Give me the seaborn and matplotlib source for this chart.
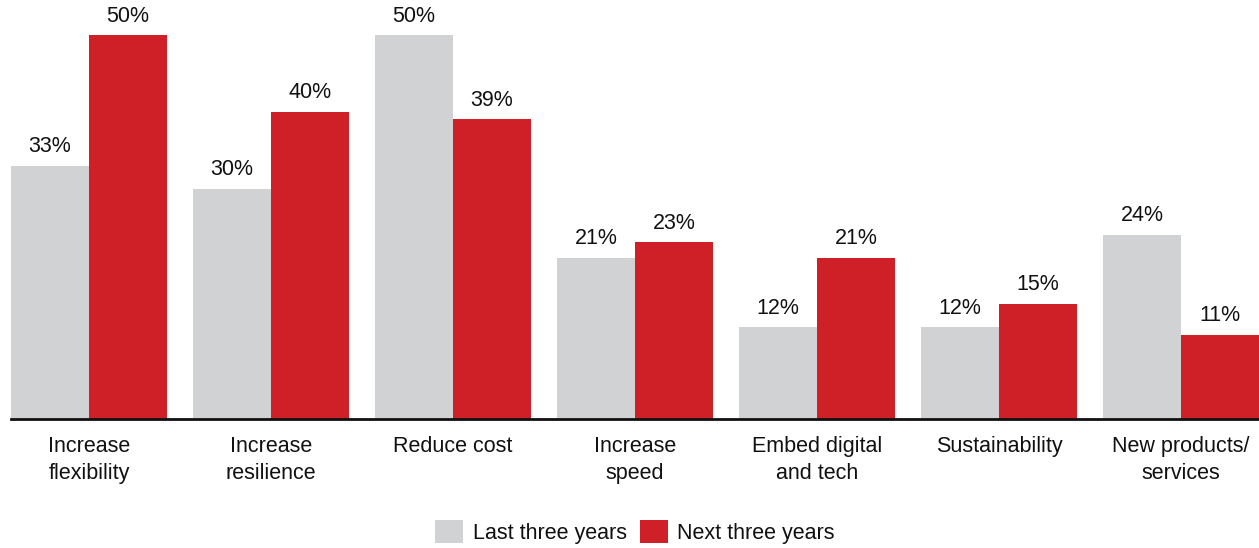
import matplotlib
matplotlib.use("Agg")
import matplotlib.pyplot as plt
import seaborn as sns
import pandas as pd
from matplotlib.patches import Patch

categories = ["Increase\nflexibility", "Increase\nresilience", "Reduce cost",
              "Increase\nspeed", "Embed digital\nand tech", "Sustainability",
              "New products/\nservices"]
last_three = [33, 30, 50, 21, 12, 12, 24]
next_three = [50, 40, 39, 23, 21, 15, 11]
series = ["Last three years", "Next three years"]
colors = ["#D1D2D4", "#CF2027"]

df = pd.DataFrame({
    "category": categories * 2,
    "value": last_three + next_three,
    "period": [series[0]] * len(categories) + [series[1]] * len(categories),
})

sns.set_theme(style="white")
plt.rcParams["font.family"] = ["Liberation Sans", "DejaVu Sans"]

FS = 15.5
fig = plt.figure(figsize=(12.59, 5.48), dpi=100)
W, H = 1259, 548
ax = fig.add_axes([11 / W, (H - 419) / H, 1248 / W, 384 / H])

sns.barplot(data=df, x="category", y="value", hue="period", order=categories,
            hue_order=series, palette=colors, width=0.857, saturation=1,
            linewidth=0, ax=ax, legend=False)

for cont in ax.containers:
    ax.bar_label(cont, fmt="%d%%", padding=6, fontsize=FS, color="#111111")

ax.set_xlim(-0.4285, 6.4285)
ax.set_ylim(0, 50)
ax.set_xlabel("")
ax.set_ylabel("")
ax.set_yticks([])
ax.tick_params(axis="x", length=0, pad=12, labelsize=FS, colors="#111111")
for lab in ax.get_xticklabels():
    lab.set_linespacing(1.4)
for s in ["top", "right", "left"]:
    ax.spines[s].set_visible(False)
ax.spines["bottom"].set_color("#111111")
ax.spines["bottom"].set_linewidth(2)

handles = [Patch(facecolor=c, edgecolor="none", label=l) for c, l in zip(colors, series)]
fig.legend(handles=handles, loc="center", bbox_to_anchor=(635 / W, (H - 532) / H),
           ncol=2, frameon=False, fontsize=FS, handlelength=1.3, handleheight=1.3,
           handletextpad=0.45, columnspacing=0.6, labelcolor="#111111")

fig.savefig("out.png", dpi=100)
